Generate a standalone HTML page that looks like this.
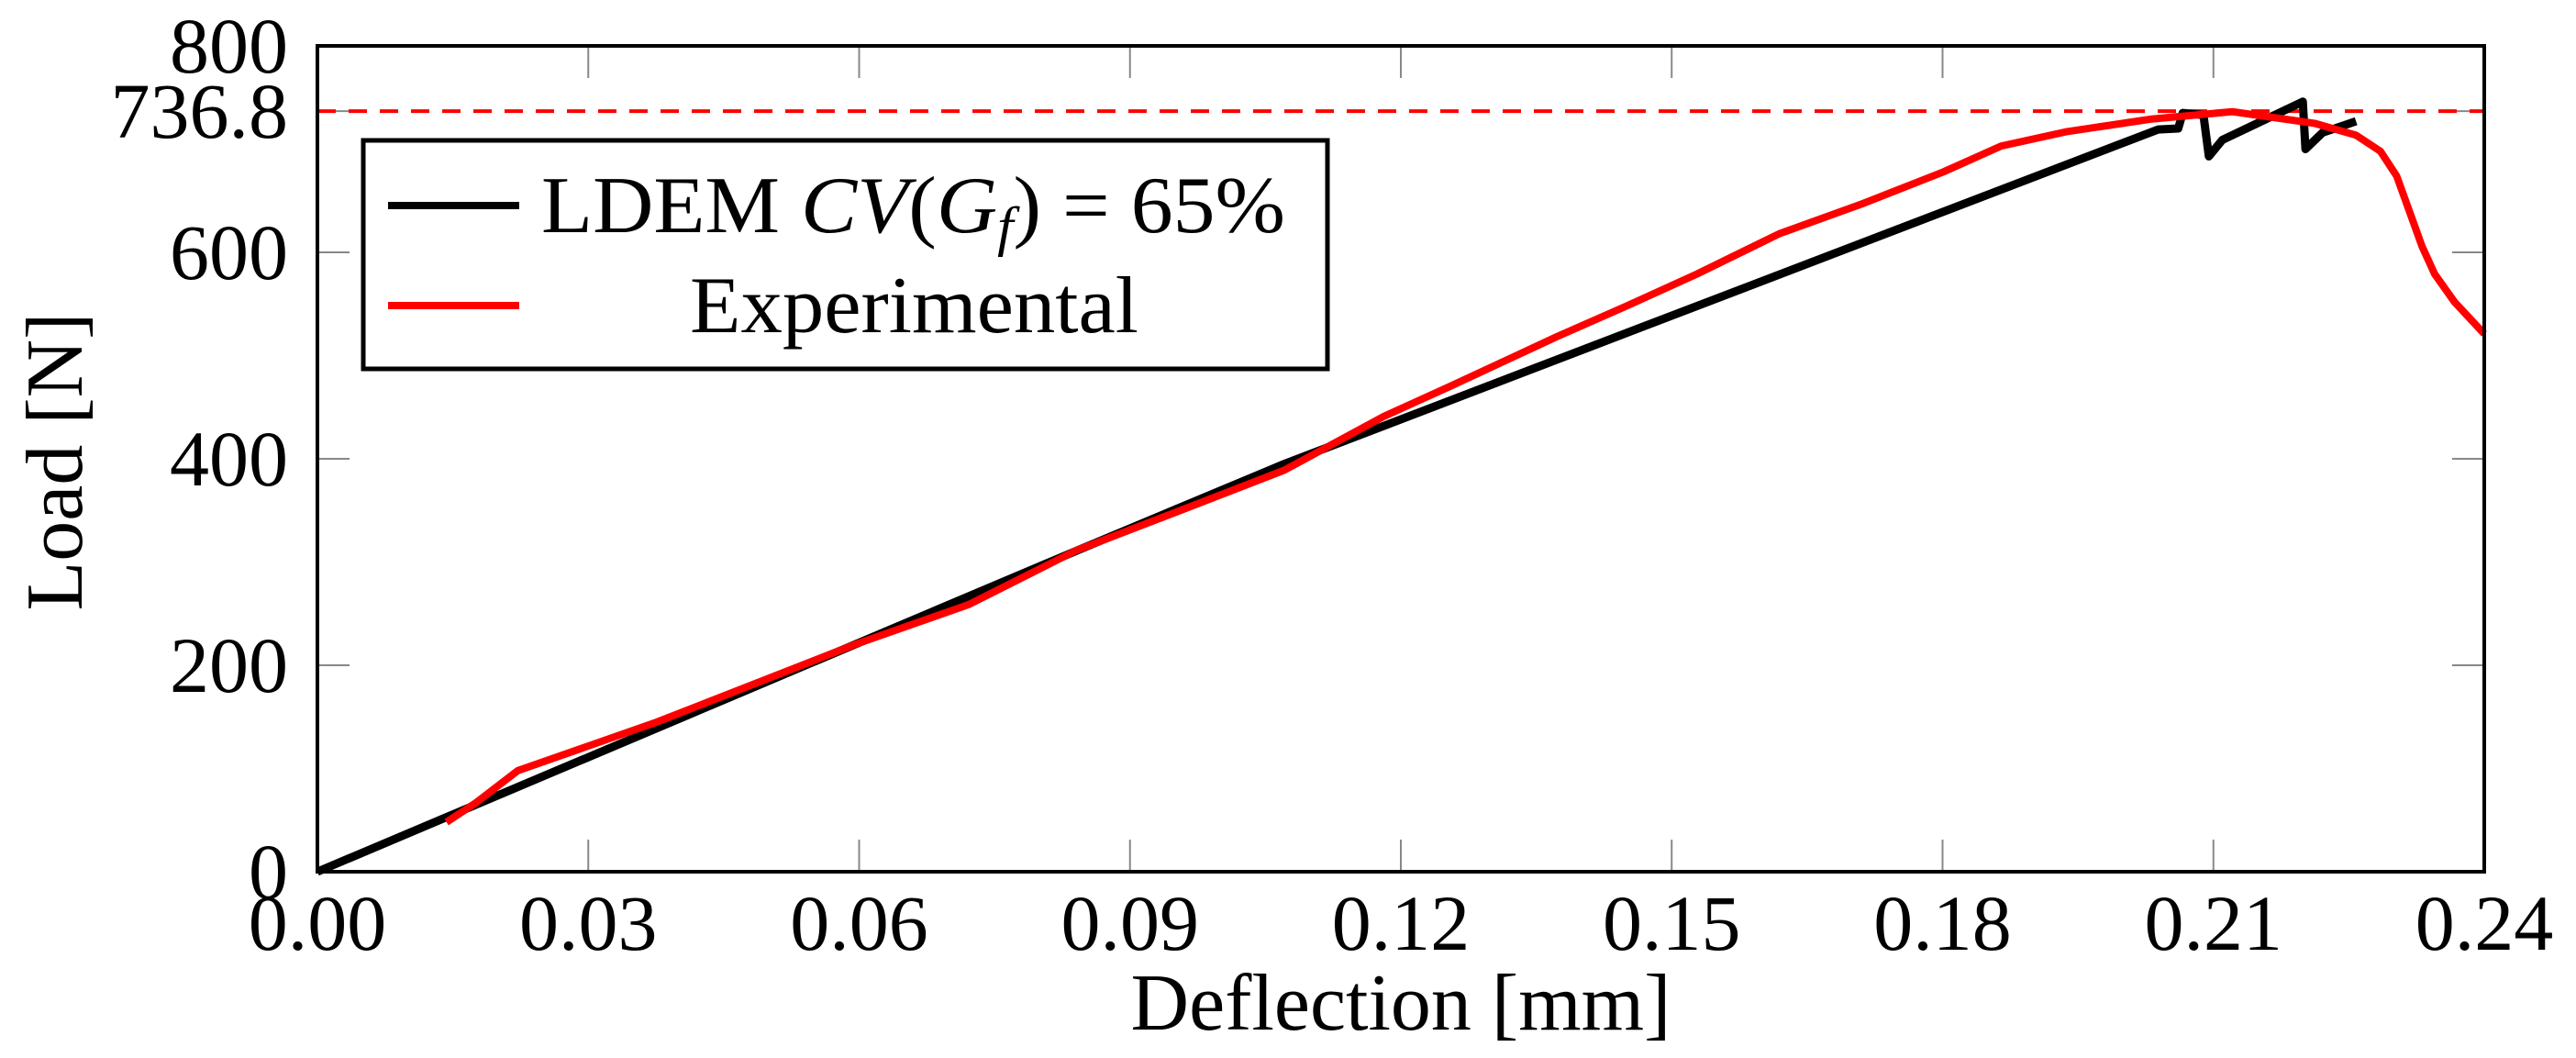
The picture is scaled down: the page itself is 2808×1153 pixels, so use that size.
<!DOCTYPE html>
<html><head><meta charset="utf-8"><style>
html,body{margin:0;padding:0;background:#fff;}
svg{display:block;font-family:"Liberation Serif",serif;}
</style></head><body>
<svg id="chart" width="2808" height="1153" viewBox="0 0 2808 1153" xmlns="http://www.w3.org/2000/svg">
<g id="grid"></g>
<g id="series"></g>
<rect x="346" y="50" width="2362" height="900" fill="none" stroke="#000" stroke-width="4"/>
<g id="labels"></g>
<text x="1527" y="1122" font-size="88" text-anchor="middle">Deflection [mm]</text>
<text transform="translate(89,503) rotate(-90)" font-size="88" text-anchor="middle">Load [N]</text>
<g>
<rect x="396" y="153" width="1051" height="249" fill="#fff" stroke="#000" stroke-width="5"/>
<line x1="423" y1="224" x2="566" y2="224" stroke="#000" stroke-width="8"/>
<text x="590" y="253" font-size="88" textLength="811" lengthAdjust="spacingAndGlyphs">LDEM <tspan font-style="italic">CV</tspan>(<tspan font-style="italic">G<tspan font-size="60" dy="14">f</tspan></tspan><tspan dy="-14">) = 65%</tspan></text>
<line x1="423" y1="333" x2="566" y2="333" stroke="#f00" stroke-width="8"/>
<text x="752" y="362" font-size="88" textLength="489" lengthAdjust="spacingAndGlyphs">Experimental</text>
</g>
</svg>
<script>
const xTicks = [0, 0.03, 0.06, 0.09, 0.12, 0.15, 0.18, 0.21, 0.24];
const xTickLabels = ["0.00","0.03","0.06","0.09","0.12","0.15","0.18","0.21","0.24"];
const yTicks = [0, 200, 400, 600, 736.8, 800];
const yTickLabels = ["0","200","400","600","736.8","800"];
const peakLoad = 736.8;
const ldemX = [0, 0.0841, 0.1071, 0.2039, 0.2061, 0.2066, 0.2089, 0.2095, 0.211, 0.2199, 0.2202, 0.2221, 0.2258];
const ldemY = [0, 311, 395, 719, 720, 735, 733, 693, 709, 746, 700, 716, 727];
const expX = [0.0143, 0.0176, 0.0222, 0.0376, 0.0595, 0.0722, 0.084, 0.095, 0.1071, 0.1181, 0.1254, 0.1372, 0.145, 0.1528, 0.1619, 0.1711, 0.1801, 0.1865, 0.1938, 0.203, 0.2121, 0.2212, 0.2258, 0.2285, 0.2303, 0.2317, 0.2331, 0.2345, 0.2367, 0.24];
const expY = [48, 67, 98, 145, 220, 259, 311, 348, 389, 441, 470, 518, 548, 579, 618, 647, 678, 703, 717, 729, 736.3, 725, 713.5, 698, 674, 640, 606, 579, 552, 521];

const X0 = 346, X1 = 2708, Y0 = 950, Y1 = 50;
function sx(v){ return X0 + (v - 0) / 0.24 * (X1 - X0); }
function sy(v){ return Y0 - (v - 0) / 800 * (Y0 - Y1); }
const NS = "http://www.w3.org/2000/svg";
const grid = document.getElementById('grid');
const labels = document.getElementById('labels');
const series = document.getElementById('series');
function mk(tag, attrs, parent){ const e = document.createElementNS(NS, tag); for (const k in attrs) e.setAttribute(k, attrs[k]); parent.appendChild(e); return e; }

xTicks.forEach((t, i) => {
  const x = sx(t);
  if (i > 0 && i < xTicks.length - 1) {
    const a = mk('line', {x1:x, y1:Y0, x2:x, y2:Y0-35, stroke:'#888', 'stroke-width':2}, grid);
    
    
    const b = mk('line', {x1:x, y1:Y1, x2:x, y2:Y1+35, stroke:'#888', 'stroke-width':2}, grid);
    
    
  }
  const tx = mk('text', {x:x, y:1035, 'font-size':86, 'text-anchor':'middle'}, labels);
  tx.textContent = xTickLabels[i];
  
  
});
yTicks.forEach((t, i) => {
  const y = sy(t);
  if (i > 0 && t !== 800) {
    const a = mk('line', {x1:X0, y1:y, x2:X0+35, y2:y, stroke:'#888', 'stroke-width':2}, grid);
    
    
    const b = mk('line', {x1:X1, y1:y, x2:X1-35, y2:y, stroke:'#888', 'stroke-width':2}, grid);
    
    
  }
  const ty = mk('text', {x:314, y:y+29, 'font-size':86, 'text-anchor':'end'}, labels);
  ty.textContent = yTickLabels[i];
  
  
});

const peak = mk('line', {x1:X0, y1:sy(peakLoad), x2:X1, y2:sy(peakLoad), stroke:'#f00', 'stroke-width':4, 'stroke-dasharray':'20 14'}, series);



function pts(xs, ys){ return xs.map((v, i) => sx(v).toFixed(1) + ',' + sy(ys[i]).toFixed(1)).join(' '); }
const l1 = mk('polyline', {points: pts(ldemX, ldemY), fill:'none', stroke:'#000', 'stroke-width':9, 'stroke-linejoin':'round'}, series);


const l2 = mk('polyline', {points: pts(expX, expY), fill:'none', stroke:'#f00', 'stroke-width':8, 'stroke-linejoin':'round'}, series);


</script>
</body></html>
